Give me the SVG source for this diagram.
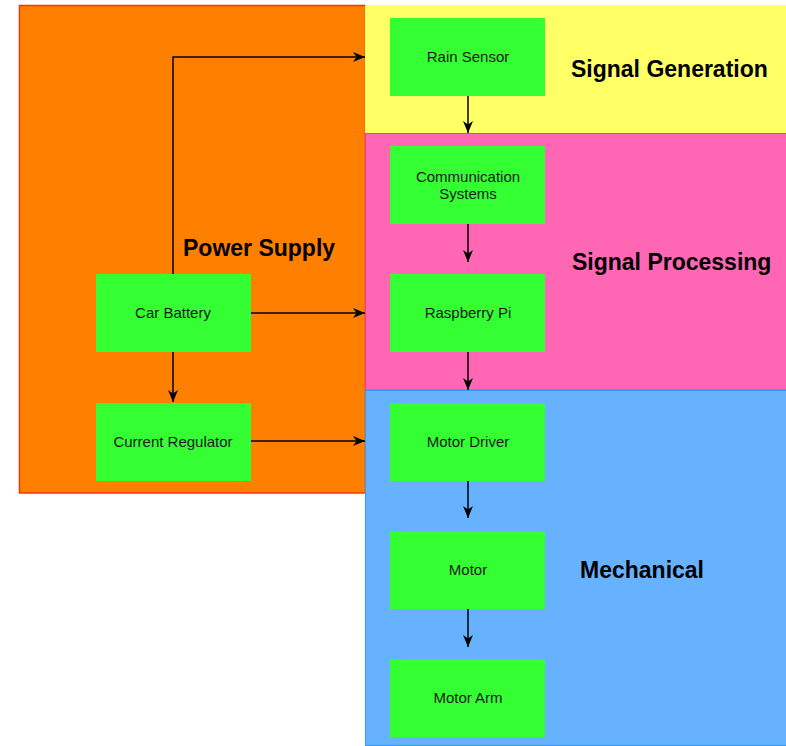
<svg xmlns="http://www.w3.org/2000/svg" width="786" height="746" viewBox="0 0 786 746">
<style>
.node rect{fill:#33FF33;stroke:none}
.node text{font-family:"Liberation Sans",Arial,sans-serif;font-size:15px;fill:#1a1a1a;text-anchor:middle;dominant-baseline:central}
.title{font-family:"Liberation Sans",Arial,sans-serif;font-size:23px;font-weight:bold;fill:#000}
.edge{fill:none;stroke:#000;stroke-width:1.5;marker-end:url(#arr)}
</style>
<defs>
<marker id="arr" markerUnits="userSpaceOnUse" markerWidth="14" markerHeight="12" refX="12" refY="6" orient="auto">
<path d="M0,1 L12,6 L0,11 L3.5,6 Z" fill="#000"/>
</marker>
</defs>
<rect width="786" height="746" fill="#ffffff"/>
<g id="power-supply">
<rect x="19.5" y="5.5" width="346" height="487.5" fill="#FF8000" stroke="#FF3300" stroke-width="1.5"/>
<text class="title" x="183" y="256">Power Supply</text>
</g>
<g id="signal-generation">
<rect x="365" y="5" width="421" height="128" fill="#FFFF66"/>
<text class="title" x="571" y="77">Signal Generation</text>
</g>
<g id="signal-processing">
<rect x="365.5" y="133.5" width="421" height="256.5" fill="#FF66B3" stroke="#FF3399" stroke-width="1"/>
<text class="title" x="572" y="270">Signal Processing</text>
</g>
<g id="mechanical">
<rect x="365.5" y="390.5" width="421" height="355" fill="#66B2FF" stroke="#3399FF" stroke-width="1"/>
<text class="title" x="580" y="578">Mechanical</text>
</g>
<g id="car-battery" class="node"><rect x="96" y="274" width="155" height="78"/><text x="173" y="312.5">Car Battery</text></g>
<g id="current-regulator" class="node"><rect x="96" y="403" width="155" height="78"/><text x="173" y="441.5">Current Regulator</text></g>
<g id="rain-sensor" class="node"><rect x="390" y="18" width="155" height="78"/><text x="468" y="56.5">Rain Sensor</text></g>
<g id="communication-systems" class="node"><rect x="390" y="146" width="155" height="78"/><text x="468" y="176.5">Communication</text><text x="468" y="193.5">Systems</text></g>
<g id="raspberry-pi" class="node"><rect x="390" y="274" width="155" height="78"/><text x="468" y="312.5">Raspberry Pi</text></g>
<g id="motor-driver" class="node"><rect x="390" y="403" width="155" height="78"/><text x="468" y="441.5">Motor Driver</text></g>
<g id="motor" class="node"><rect x="390" y="531" width="155" height="78"/><text x="468" y="569.5">Motor</text></g>
<g id="motor-arm" class="node"><rect x="390" y="659" width="155" height="78"/><text x="468" y="697.5">Motor Arm</text></g>
<g id="connectors">
<path class="edge" d="M173,274 V57 H365"/>
<path class="edge" d="M251,313 H365"/>
<path class="edge" d="M251,441 H365"/>
<path class="edge" d="M173,352 V402"/>
<path class="edge" d="M468,96 V133"/>
<path class="edge" d="M468,224 V262"/>
<path class="edge" d="M468,352 V390"/>
<path class="edge" d="M468,481 V518"/>
<path class="edge" d="M468,609 V647"/>
</g>
</svg>
